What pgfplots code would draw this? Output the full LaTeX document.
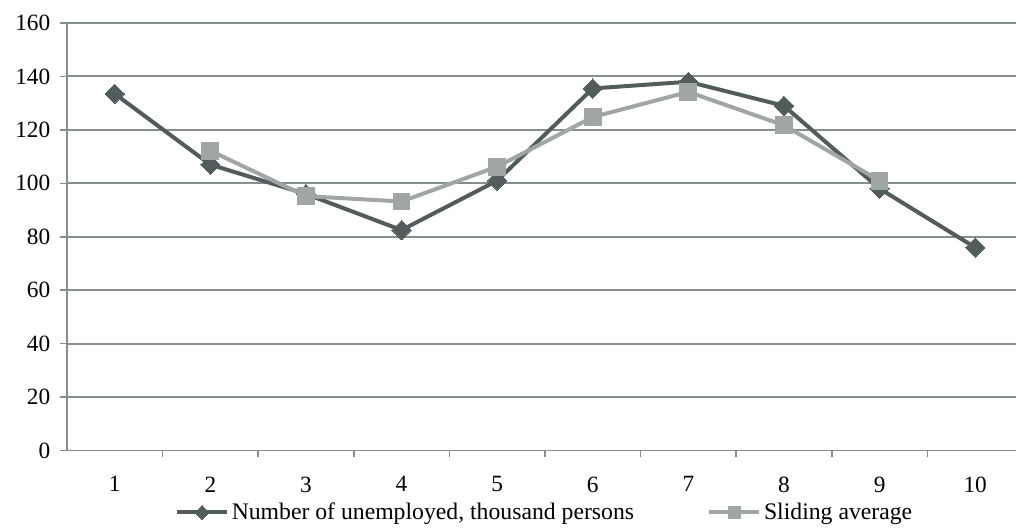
\documentclass[border=0pt]{standalone}
\usepackage{fontspec}
\setmainfont{Liberation Serif}
\usepackage{pgfplots}
\pgfplotsset{compat=1.18}
\definecolor{darkser}{RGB}{82,92,92}
\definecolor{lightser}{RGB}{160,165,166}
\definecolor{gridc}{RGB}{134,143,143}
\begin{document}
\begin{tikzpicture}
\begin{axis}[
  name=ax,
  scale only axis,
  width=717.75pt, height=321pt,
  xmin=0.5, xmax=10.5, ymin=0, ymax=160,
  axis x line*=bottom, axis y line*=left,
  axis line style={gridc, line width=1.4pt},
  ytick={0,20,...,160},
  xtick={1,...,10},
  minor xtick={1.5,2.5,...,9.5},
  major x tick style={draw=none},
  minor x tick style={gridc, line width=1.2pt},
  major y tick style={gridc, line width=1.2pt},
  tick align=outside,
  major tick length=5pt, minor tick length=5pt,
  ymajorgrids,
  grid style={gridc, line width=1.4pt},
  /pgf/number format/assume math mode=true,
  tick label style={font=\fontsize{17.5}{20}\selectfont, text=black},
  yticklabel style={xshift=-4pt},
  xticklabel style={yshift=-11pt},
  clip=false,
  legend columns=2,
  legend style={draw=none, fill=none, at={(0.5,0)}, anchor=center, yshift=-46.5pt,
    font=\fontsize{17.8}{20}\selectfont, inner sep=0pt,
    /tikz/every even column/.append style={column sep=53pt}},
  legend cell align=left,
  legend image code/.code={\draw[mark repeat=2,mark phase=2, every mark/.append style={scale=0.72}] plot coordinates {(0cm,0cm)(0.66cm,0cm)(1.32cm,0cm)};},
]
\addplot[darkser, line width=3pt, mark=square*, mark size=5.1pt,
  mark options={solid, rotate=45, line width=0pt, fill=darkser, draw=darkser}]
  coordinates {(1,133.5)(2,107)(3,96)(4,82.5)(5,101)(6,135.5)(7,138)(8,129)(9,98)(10,76)};
\addlegendentry{Number of unemployed, thousand persons}
\addplot[lightser, line width=3pt, mark=square*, mark size=6.3pt,
  mark options={solid, line width=0pt, fill=lightser, draw=lightser}]
  coordinates {(2,112.2)(3,95.2)(4,93.2)(5,106.2)(6,124.8)(7,134.2)(8,121.7)(9,101)};
\addlegendentry{Sliding average}
\end{axis}
\pgfresetboundingbox
\path[use as bounding box] ([xshift=-50.25pt, yshift=-59.25pt]ax.south west) rectangle ([xshift=-5.25pt, yshift=17.25pt]ax.north east);
\end{tikzpicture}
\end{document}
